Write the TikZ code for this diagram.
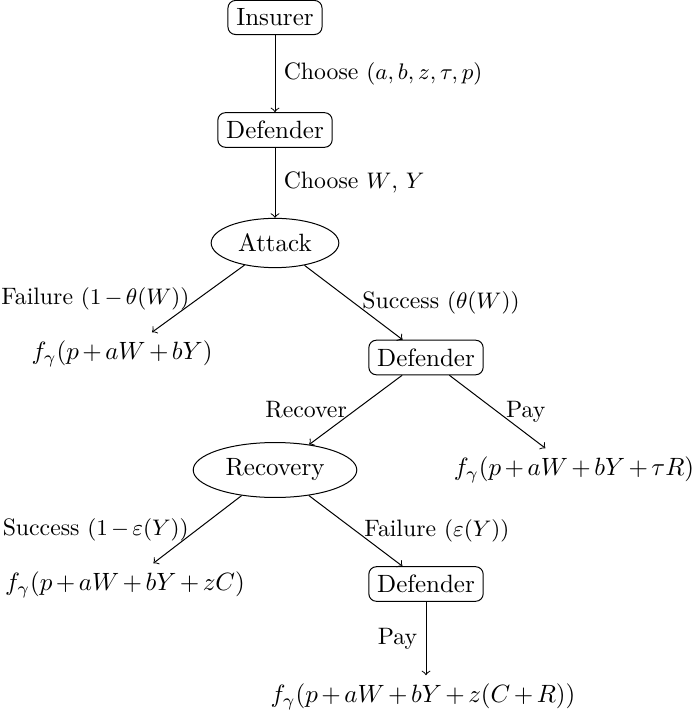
\documentclass[tikz,border=0pt]{standalone}
\usetikzlibrary{shapes.geometric}
\medmuskip=2.5mu plus 1mu minus 2.5mu
\begin{document}
\begin{tikzpicture}[x=0.4pt,y=-0.4pt,
  decision/.style={draw,rounded corners=3pt},
  chance/.style={draw,ellipse},
  leaf/.style={},
  lbl/.style={font=\fontsize{9.5}{11}\selectfont},
  arr/.style={->}]
\useasboundingbox (0,0) rectangle (693,718);
\node[decision] (ins) at (275,17.5) {Insurer};
\node[decision] (d1) at (275,130) {Defender};
\node[chance] (att) at (275,243) {Attack};
\node[leaf] (f1) at (122,354) {$f_\gamma(p+aW+bY)$};
\node[decision] (d2) at (426,357.5) {Defender};
\node[chance] (rec) at (275,470) {Recovery};
\node[leaf] (f2) at (574,470) {$f_\gamma(p+aW+bY+\tau R)$};
\node[leaf] (f3) at (125,585) {$f_\gamma(p+aW+bY+zC)$};
\node[decision] (d3) at (426,584) {Defender};
\node[leaf] (f4) at (423,697) {$f_\gamma(p+aW+bY+z(C+R))$};
\draw[arr] (ins) -- node[right,lbl]{Choose $(a,b,z,\tau,p)$} (d1);
\draw[arr] (d1) -- node[right,lbl]{Choose $W$, $Y$} (att);
\draw[arr] (att) -- node[left,lbl]{Failure $(1-\theta(W))$} (f1);
\draw[arr] (att) -- node[right,lbl]{Success $(\theta(W))$} (d2);
\draw[arr] (d2) -- node[left,lbl]{Recover} (rec);
\draw[arr] (d2) -- node[right,lbl]{Pay} (f2);
\draw[arr] (rec) -- node[left,lbl]{Success $(1-\varepsilon(Y))$} (f3);
\draw[arr] (rec) -- node[right,lbl]{Failure $(\varepsilon(Y))$} (d3);
\draw[arr] (d3) -- node[left,lbl]{Pay} (d3 |- f4.north);
\end{tikzpicture}
\end{document}
